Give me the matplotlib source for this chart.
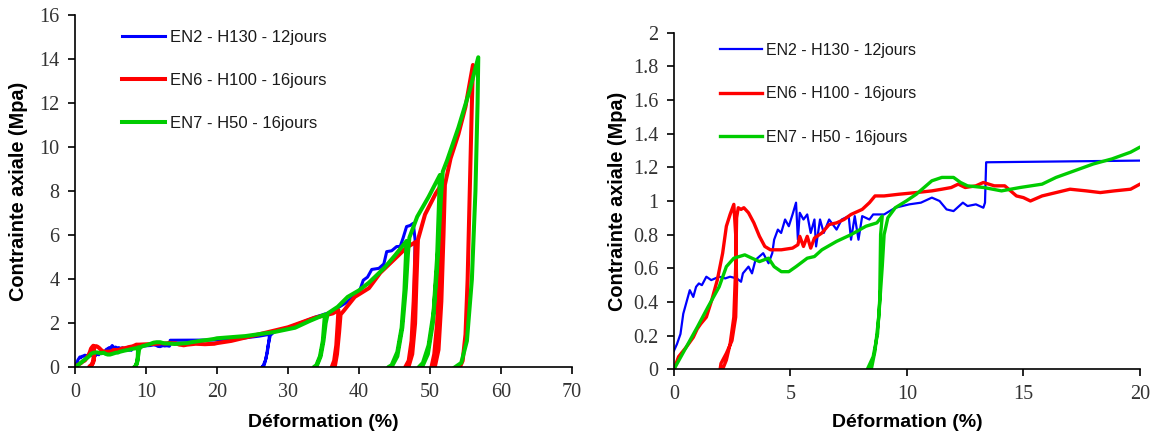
import matplotlib
matplotlib.use("Agg")
import matplotlib.pyplot as plt
from matplotlib.ticker import FuncFormatter

# EN2 - H130 - 12jours (strain %, stress MPa)
en2_x = [0, 0.13, 0.28, 0.4, 0.52, 0.68, 0.83, 0.95, 1.07, 1.2, 1.39, 1.6, 1.94, 2.2, 2.41, 2.7,
         2.88, 2.96, 3.2, 3.35, 3.5, 3.83, 4.06, 4.22, 4.3, 4.46, 4.6, 4.77, 4.93, 5.09, 5.24, 5.32,
         5.4, 5.56, 5.72, 5.87, 6.03, 6.1, 6.27, 6.43, 6.66, 6.98, 7.2, 7.5, 7.6, 7.76, 7.92, 8.08,
         8.39, 8.55, 9.02, 9.5, 10.1, 10.6, 11.07, 11.4, 11.7, 12.0, 12.4, 12.6, 12.96, 13.28, 13.35,
         13.4, 20.0, 23.0, 26.0, 27.4,
         27.3, 27.1, 26.8, 26.5, 26.3,
         26.6, 26.9, 27.2, 27.5, 28.0, 30.0, 32.0, 34.0, 36.0, 38.0, 40.0, 40.6, 41.2, 41.8, 42.8,
         43.5, 43.9, 44.6, 45.3, 45.8, 46.2, 46.7, 47.2, 47.65, 47.9, 47.75]
en2_y = [0.11, 0.15, 0.21, 0.33, 0.39, 0.47, 0.43, 0.49, 0.51, 0.5, 0.55, 0.53, 0.55, 0.54, 0.55, 0.54,
         0.52, 0.57, 0.61, 0.57, 0.65, 0.69, 0.63, 0.69, 0.77, 0.83, 0.81, 0.89, 0.85, 0.92, 0.99, 0.77,
         0.93, 0.89, 0.92, 0.81, 0.89, 0.73, 0.89, 0.81, 0.89, 0.83, 0.89, 0.91, 0.77, 0.91, 0.77, 0.91,
         0.89, 0.92, 0.92, 0.96, 0.98, 0.99, 1.02, 1.0, 0.95, 0.94, 0.99, 0.97, 0.98, 0.96, 0.99,
         1.23, 1.24, 1.3, 1.42, 1.5,
         1.2, 0.7, 0.3, 0.08, 0.0,
         0.05, 0.4, 1.0, 1.45, 1.6, 1.8, 2.05, 2.3, 2.5, 2.9, 3.4, 3.96, 4.1, 4.45, 4.5,
         4.7, 5.26, 5.3, 5.49, 5.5, 5.87, 6.4, 6.45, 6.55, 5.8, 2.9]

# EN6 - H100 - 16jours
en6_x = [0, 0.2, 0.52, 0.83, 1.0, 1.15, 1.39, 1.62, 1.86, 2.09, 2.25, 2.41, 2.57,
         2.65, 2.69, 2.65, 2.49, 2.25, 2.02, 1.98,
         2.09, 2.25, 2.41, 2.57, 2.65, 2.69, 2.76, 2.88, 3.0, 3.2, 3.43, 3.67, 3.9, 4.14, 4.61, 5.09,
         5.32, 5.4, 5.56, 5.72, 5.87, 6.03, 6.35, 6.66, 6.98, 7.3, 7.6, 8.08, 8.39, 8.63, 9.02, 9.65,
         10.4, 11.07, 11.5, 11.9, 12.2, 12.5, 12.96, 13.28, 13.75, 14.2, 14.7, 15.0, 15.3, 15.8, 16.4,
         17.0, 17.7, 18.3, 18.9, 19.6, 20.0,
         22.0, 25.9, 30.0, 33.7, 36.3, 37.1,
         37.0, 36.8, 36.5, 36.15,
         36.6, 36.9, 37.2, 37.4, 37.8, 39.4, 41.4, 43.0, 45.1, 46.7, 48.0,
         47.9, 47.7, 47.4, 47.0, 46.5,
         47.0, 47.5, 47.9, 48.1, 48.3, 49.3, 50.8, 51.6,
         51.5, 51.3, 51.0, 50.6, 50.2,
         50.7, 51.2, 51.6, 51.9, 52.1, 52.9, 54.0, 55.0, 56.05,
         55.9, 55.6, 55.3, 55.0, 54.6, 54.2]
en6_y = [0, 0.075, 0.13, 0.19, 0.24, 0.27, 0.31, 0.41, 0.53, 0.69, 0.85, 0.92, 0.98,
         0.8, 0.51, 0.31, 0.17, 0.095, 0.035, 0.0,
         0.0, 0.055, 0.15, 0.31, 0.61, 0.9, 0.96, 0.95, 0.96, 0.93, 0.87, 0.79, 0.73, 0.71, 0.71, 0.72,
         0.74, 0.79, 0.73, 0.79, 0.72, 0.78, 0.81, 0.86, 0.87, 0.89, 0.92, 0.95, 0.99, 1.03, 1.03, 1.04,
         1.05, 1.06, 1.07, 1.08, 1.1, 1.08, 1.09, 1.11, 1.09, 1.09, 1.03, 1.02, 1.0, 1.03, 1.05,
         1.07, 1.06, 1.05, 1.06, 1.07, 1.1,
         1.2, 1.5, 1.82, 2.25, 2.45, 2.6,
         2.0, 1.0, 0.3, 0.0,
         0.05, 0.6, 1.6, 2.4, 2.55, 3.2, 3.6, 4.3, 4.95, 5.45, 5.7,
         4.8, 3.0, 1.2, 0.3, 0.0,
         0.05, 0.6, 2.0, 4.0, 5.8, 6.95, 7.9, 8.3,
         7.0, 4.5, 2.0, 0.6, 0.0,
         0.05, 0.8, 3.0, 6.0, 8.3, 9.5, 10.6, 11.85, 13.75,
         12.0, 8.0, 4.0, 1.5, 0.3, 0.0]

# EN7 - H50 - 16jours
en7_x = [0, 0.52, 1.0, 1.46, 1.94, 2.25, 2.57, 3.04, 3.35, 3.67, 4.06, 4.3, 4.61, 4.93, 5.24, 5.72,
         6.03, 6.35, 6.98, 7.6, 8.24, 8.71, 8.94,
         8.87, 8.83, 8.74, 8.55, 8.3,
         8.47, 8.63, 8.79, 8.94, 9.02, 9.18, 9.5, 9.97, 10.4, 11.07, 11.5, 12.0, 12.3, 12.6, 13.3,
         14.06, 14.85, 15.8, 16.4, 17.2, 18.0, 18.8, 19.6, 20.0,
         24.0, 28.0, 31.0, 33.0, 35.2,
         35.1, 34.9, 34.5, 34.0, 33.6,
         34.0, 34.6, 35.0, 35.3, 35.6, 37.0, 38.4, 40.0, 41.4, 43.5, 45.1, 46.7,
         46.6, 46.4, 46.0, 45.4, 44.6, 44.1,
         44.6, 45.4, 46.1, 46.6, 46.9, 47.1, 48.2, 49.8, 51.4,
         51.3, 51.0, 50.5, 49.8, 49.0, 48.4,
         48.9, 49.7, 50.4, 51.0, 51.5, 51.8, 52.4, 54.0, 55.6, 56.8,
         56.7, 56.4, 55.9, 55.2, 54.4, 53.5]
en7_y = [0, 0.13, 0.25, 0.37, 0.49, 0.61, 0.66, 0.68, 0.66, 0.64, 0.66, 0.61, 0.58, 0.58, 0.61, 0.66,
         0.67, 0.71, 0.76, 0.8, 0.85, 0.87, 0.91,
         0.8, 0.41, 0.21, 0.075, 0.0,
         0.0, 0.11, 0.31, 0.61, 0.8, 0.9, 0.96, 1.0, 1.04, 1.12, 1.14, 1.14, 1.11, 1.09, 1.08,
         1.06, 1.08, 1.1, 1.14, 1.18, 1.22, 1.25, 1.29, 1.32,
         1.42, 1.6, 1.8, 2.1, 2.4,
         2.0, 1.2, 0.5, 0.1, 0.0,
         0.02, 0.5, 1.2, 2.0, 2.45, 2.75, 3.2, 3.5, 3.85, 4.5, 5.1, 5.75,
         5.0, 3.5, 1.8, 0.7, 0.1, 0.0,
         0.02, 0.5, 1.8, 3.6, 5.2, 5.9, 6.85, 7.75, 8.75,
         7.8, 5.0, 2.5, 1.0, 0.2, 0.0,
         0.02, 0.6, 2.0, 4.5, 7.5, 8.9, 9.4, 10.9, 12.6, 14.1,
         12.0, 8.0, 4.0, 1.2, 0.2, 0.0]

labels = ["EN2 - H130 - 12jours", "EN6 - H100 - 16jours", "EN7 - H50 - 16jours"]
colors = ["#0000ff", "#ff0000", "#00cc00"]
series = [(en2_x, en2_y), (en6_x, en6_y), (en7_x, en7_y)]

plt.rcParams['font.family'] = 'Liberation Serif'

fig = plt.figure(figsize=(11.56, 4.34), dpi=100)
ax1 = fig.add_axes([0.0649, 0.1537, 0.4299, 0.8106])
ax2 = fig.add_axes([0.5830, 0.1491, 0.4031, 0.7756])

def style(ax, xlim, ylim, xticks, yticks, lws, leg_pos, leg_size, leg_gap, ylab_x):
    for (x, y), c, lab, lw in zip(series, colors, labels, lws):
        ax.plot(x, y, color=c, lw=lw, label=lab, solid_joinstyle='round')
    ax.set_xlim(*xlim)
    ax.set_ylim(*ylim)
    ax.set_xticks(xticks)
    ax.set_yticks(yticks)
    ax.yaxis.set_major_formatter(FuncFormatter(lambda v, p: f'{v:g}'))
    for s in ['top', 'right']:
        ax.spines[s].set_visible(False)
    for s in ['left', 'bottom']:
        ax.spines[s].set_linewidth(1.2)
    ax.tick_params(direction='out', length=5, width=1.2, labelsize=14.5,
                   pad=6, labelcolor='#333333')
    ax.set_xlabel('Déformation (%)', fontfamily='Liberation Sans', fontweight='bold', fontsize=14)
    ax.set_ylabel('Contrainte axiale (Mpa)', fontfamily='Liberation Sans', fontweight='bold', fontsize=14.3)
    ax.xaxis.set_label_coords(0.5, -0.133)
    ax.yaxis.set_label_coords(ylab_x, 0.5)
    ax.legend(loc='upper left', bbox_to_anchor=leg_pos, frameon=False, borderaxespad=0,
              borderpad=0, handlelength=2.6, handletextpad=0.3, labelspacing=leg_gap,
              prop={'family': 'Liberation Sans', 'size': leg_size}, labelcolor='#1a1a1a')

style(ax1, (0, 70), (0, 16), range(0, 71, 10), range(0, 17, 2),
      [2.2, 2.9, 2.9], (0.094, 0.958), 12, 1.68, -0.095)
style(ax2, (0, 20), (0, 2), range(0, 21, 5), [i / 5 for i in range(11)],
      [1.6, 2.4, 2.4], (0.099, 0.970), 11.5, 1.78, -0.101)

fig.savefig('out.png', dpi=100)
